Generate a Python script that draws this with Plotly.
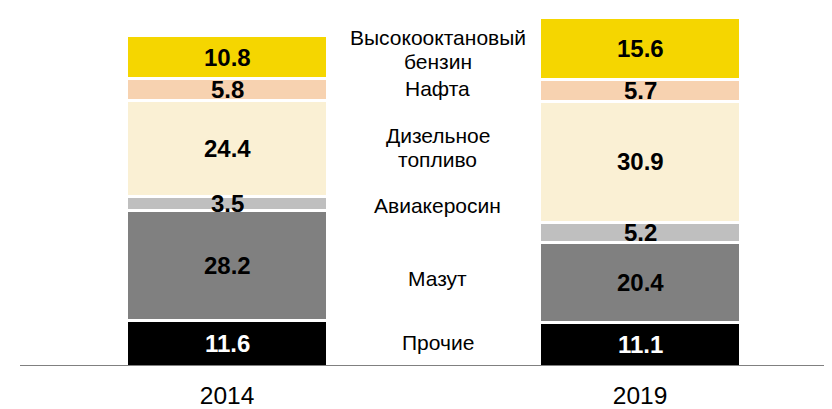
import plotly.graph_objects as go
import numpy as np

years = ["2014", "2019"]
products = ["Прочие", "Мазут", "Авиакеросин", "Дизельное топливо", "Нафта", "Высокооктановый бензин"]
other = [11.6, 11.1]
mazut = [28.2, 20.4]
avia = [3.5, 5.2]
diesel = [24.4, 30.9]
nafta = [5.8, 5.7]
benzin = [10.8, 15.6]

series = [other, mazut, avia, diesel, nafta, benzin]
colors = ["#000000", "#808080", "#BFBFBF", "#FAF0D4", "#F7D2B0", "#F5D600"]
text_colors = ["white", "black", "black", "black", "black", "black"]

# middle label lines and their vertical positions (data units)
label_lines = ["Высокооктановый", "бензин", "Нафта", "Дизельное", "топливо",
               "Авиакеросин", "Мазут", "Прочие"]
label_line_y = [83.86, 77.7, 70.88, 59.0, 52.87, 41.0, 22.35, 6.0]

FONT = "Liberation Sans, Arial, sans-serif"

fig = go.Figure()
for name, vals, col in zip(products, series, colors):
    fig.add_trace(go.Bar(
        x=years, y=vals, name=name,
        marker=dict(color=col, line=dict(color="white", width=3)),
        width=0.4867, hoverinfo="skip", showlegend=False,
    ))

cum = np.zeros(len(years))
annotations = []
for vals, tc in zip(series, text_colors):
    v = np.array(vals)
    mids = cum + v / 2
    for i, (val, m) in enumerate(zip(vals, mids)):
        annotations.append(dict(
            x=i, y=float(m), xref="x", yref="y", text=f"<b>{val:.1f}</b>",
            showarrow=False, font=dict(family=FONT, size=24, color=tc),
        ))
    cum = cum + v

for line, ly in zip(label_lines, label_line_y):
    annotations.append(dict(
        x=0.51, y=ly, xref="x", yref="y", text=line, showarrow=False,
        font=dict(family=FONT, size=21, color="#000000"), align="center",
    ))

fig.update_layout(
    width=824, height=401,
    margin=dict(l=12, r=0, t=0, b=43),
    paper_bgcolor="white", plot_bgcolor="white",
    barmode="stack",
    annotations=annotations,
    xaxis=dict(type="category", range=[-0.5012, 1.4649], showgrid=False, zeroline=False,
               showline=False, ticks="", tickfont=dict(family=FONT, size=24.5, color="#000000"),
               ticklabelstandoff=12),
    yaxis=dict(range=[0, 91.44], visible=False),
    shapes=[
        dict(type="line", xref="paper", yref="y", x0=0, x1=1, y0=0, y1=0,
             line=dict(color="#808080", width=2), layer="above"),
        dict(type="circle", xref="paper", yref="y", xsizemode="pixel", ysizemode="pixel",
             xanchor=0, yanchor=48.8, x0=-36, x1=-17, y0=-9, y1=9,
             fillcolor="#F5D600", line=dict(width=0), layer="above"),
    ],
)

fig.write_html("out.html")
